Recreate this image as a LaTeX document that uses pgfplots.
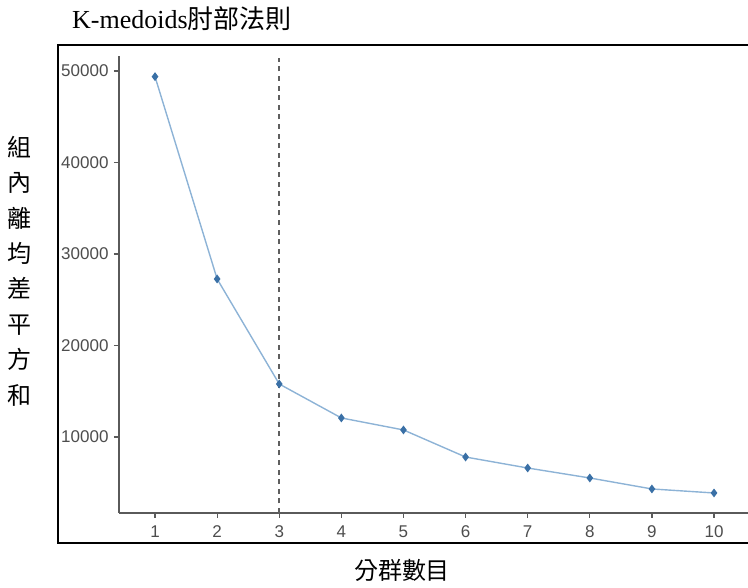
\documentclass[border=0pt]{standalone}
\usepackage{pgfplots}
\pgfplotsset{compat=1.18}
\usepackage{fontspec}
\setmainfont{Liberation Serif}
\newfontfamily\cjk{Noto Sans CJK TC}
\newfontfamily\arial{Liberation Sans}
\definecolor{axisgray}{HTML}{5A5A5A}
\definecolor{ticktext}{HTML}{4D4D4D}
\definecolor{linecol}{HTML}{8DB3D6}
\definecolor{markcol}{HTML}{3A70A6}
\definecolor{dashcol}{HTML}{5E5E5E}
\begin{document}
\begin{tikzpicture}[x=1pt,y=1pt]
\useasboundingbox (-119,-75) rectangle (629,513);
\begin{axis}[
  width=629pt, height=457.3pt, scale only axis,
  xmin=0.42, xmax=10.547, ymin=1693, ymax=51672,
  axis lines=left,
  axis line style={-, axisgray, line width=1.5pt},
  xtick={1,2,3,4,5,6,7,8,9,10},
  ytick={10000,20000,30000,40000,50000},
  tick align=outside, major tick length=5pt,
  tick style={axisgray, line width=1.2pt},
  scaled y ticks=false,
  /pgf/number format/assume math mode=true,
  /pgf/number format/1000 sep={},
  ticklabel style={font=\arial\fontsize{17}{20}\selectfont, text=ticktext},
  xticklabel style={yshift=-4pt},
  yticklabel style={xshift=-2pt},
  clip=false,
]
\addplot[dashcol, line width=1.8pt, dash pattern=on 5pt off 4.6pt] coordinates {(3,1693) (3,51400)};
\addplot[linecol, line width=1.4pt, mark=diamond*, mark size=3.3pt,
  mark options={draw=markcol, fill=markcol, solid}] coordinates {
  (1,49380) (2,27270) (3,15790) (4,12080) (5,10770)
  (6,7810) (7,6610) (8,5520) (9,4320) (10,3880)
};
\end{axis}
\draw[black, line width=2pt] (629,-30) -- (-61,-30) -- (-61,468) -- (629,468);
\node[anchor=base west, inner sep=0] at (-47,484) {\fontsize{26}{30}\selectfont K-medoids{\cjk 肘部法則}};
\node[align=center, inner sep=0, font=\cjk\fontsize{24}{35.4}\selectfont] at (-99,242) {組\\內\\離\\均\\差\\平\\方\\和};
\node[inner sep=0, font=\cjk\fontsize{24}{28}\selectfont] at (283,-57) {分群數目};
\end{tikzpicture}
\end{document}
